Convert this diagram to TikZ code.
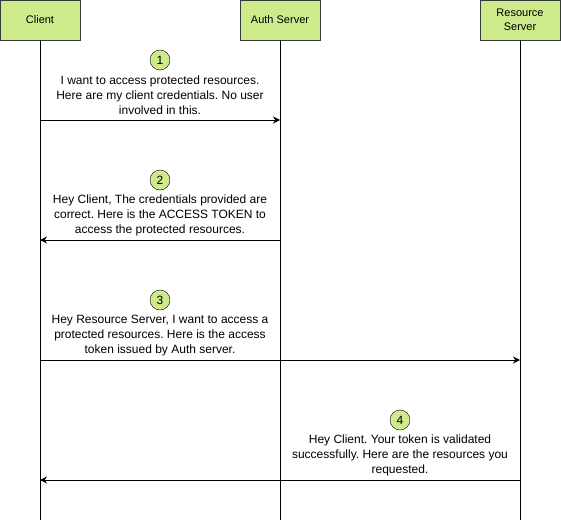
\documentclass[tikz,border=0pt]{standalone}
\usepackage{fontspec}
\setmainfont{Liberation Sans}
\usetikzlibrary{arrows.meta}
\definecolor{boxgreen}{HTML}{CDEB8B}
\definecolor{boxline}{HTML}{36393D}
\tikzset{
  akteur/.style={draw=boxline, fill=boxgreen, minimum width=80pt, minimum height=40pt,
    inner sep=0pt, align=center, font=\fontsize{11}{14}\selectfont},
  nummer/.style={circle, draw=black, fill=boxgreen, minimum size=20pt, inner sep=0pt,
    font=\fontsize{12}{14}\selectfont},
  meldung/.style={align=center, font=\fontsize{12}{15}\selectfont, inner sep=0pt},
  pfeil/.style={-{Stealth[length=7pt,width=7pt]}, line width=0.7pt}
}
\frenchspacing
\begin{document}
\begin{tikzpicture}[x=1pt, y=-1pt]
    \useasboundingbox (0,0) rectangle (561,522);

    % Teilnehmer
    \node [akteur] (C) at (40,20) {Client};
    \node [akteur] (A) at (280,20) {Auth Server};
    \node [akteur] (R) at (520,20) {Resource\\Server};

    % Lebenslinien
    \coordinate (Cend) at (40,520);
    \coordinate (Aend) at (280,520);
    \coordinate (Rend) at (520,520);
    \draw [line width=0.7pt] (C.south) -- (Cend);
    \draw [line width=0.7pt] (A.south) -- (Aend);
    \draw [line width=0.7pt] (R.south) -- (Rend);

    % Punkte auf den Lebenslinien
    \coordinate (C1) at (40,120);
    \coordinate (A1) at (280,120);
    \coordinate (A2) at (280,240);
    \coordinate (C2) at (40,240);
    \coordinate (C3) at (40,360);
    \coordinate (R3) at (520,360);
    \coordinate (R4) at (520,480);
    \coordinate (C4) at (40,480);

    % Schritt 1
    \node [nummer] (n1) at (160,60) {1};
    \node [meldung] (m1) at (160,95.5) {I want to access protected resources.\\Here are my client credentials. No user\\involved in this.};
    \draw [pfeil] (C1) -- (A1);

    % Schritt 2
    \node [nummer] (n2) at (160,180) {2};
    \node [meldung] (m2) at (160,215.5) {Hey Client, The credentials provided are\\correct. Here is the ACCESS TOKEN to\\access the protected resources.};
    \draw [pfeil] (A2) -- (C2);

    % Schritt 3
    \node [nummer] (n3) at (160,300) {3};
    \node [meldung] (m3) at (160,335.5) {Hey Resource Server, I want to access a\\protected resources. Here is the access\\token issued by Auth server.};
    \draw [pfeil] (C3) -- (R3);

    % Schritt 4
    \node [nummer] (n4) at (400,420) {4};
    \node [meldung] (m4) at (400,455.5) {Hey Client. Your token is validated\\successfully. Here are the resources you\\requested.};
    \draw [pfeil] (R4) -- (C4);
\end{tikzpicture}
\end{document}
